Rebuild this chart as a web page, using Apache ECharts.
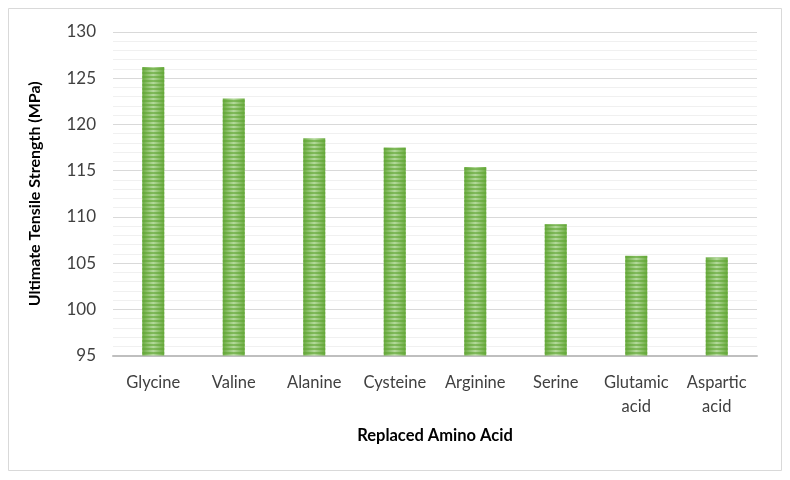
<!DOCTYPE html>
<html><head><meta charset="utf-8">
<script src="https://cdn.jsdelivr.net/npm/echarts@6/dist/echarts.min.js"></script>
<style>html,body{margin:0;padding:0;background:#fff}#c{width:790px;height:480px}</style>
</head><body><div id="c"></div>
<script>
const categories = ["Glycine","Valine","Alanine","Cysteine","Arginine","Serine","Glutamic\nacid","Aspartic\nacid"];
const values = [126.2, 122.8, 118.5, 117.5, 115.4, 109.2, 105.8, 105.6];
const yTicks = [95, 130, 5];
const xTitle = "Replaced Amino Acid";
const yTitle = "Ultimate Tensile Strength (MPa)";

const chart = echarts.init(document.getElementById('c'), null, {renderer:'canvas'});
const font = 'Lato, "Open Sans", sans-serif';
chart.setOption({
  animation:false,
  backgroundColor:'#fff',
  graphic:[{type:'rect', shape:{x:8.5,y:8.5,width:773,height:462}, style:{fill:'none', stroke:'#d9d9d9', lineWidth:1}, silent:true}],
  grid:{left:113, right:33, top:32, bottom:124.5},
  xAxis:{
    type:'category', data:categories,
    name:xTitle, nameLocation:'middle', nameGap:72,
    nameTextStyle:{fontFamily:font, fontSize:16.5, fontWeight:'bold', color:'#000'},
    axisLine:{lineStyle:{color:'#bfbfbf', width:2}},
    axisTick:{show:false},
    axisLabel:{fontFamily:font, fontSize:16.5, color:'#404040', margin:15, lineHeight:24, interval:0}
  },
  yAxis:{
    type:'value', min:yTicks[0], max:yTicks[1], interval:yTicks[2],
    name:yTitle, nameLocation:'middle', nameGap:70,
    nameTextStyle:{fontFamily:font, fontSize:16, fontWeight:'bold', color:'#000'},
    axisLine:{show:false}, axisTick:{show:false},
    axisLabel:{fontFamily:font, fontSize:17, color:'#404040', margin:17},
    splitLine:{lineStyle:{color:'#d9d9d9', width:1}},
    minorTick:{show:false, splitNumber:5},
    minorSplitLine:{show:true, lineStyle:{color:'#f0f0f0', width:1}}
  },
  series:[{
    type:'bar', data:values, barWidth:22,
    itemStyle:{
      color:{type:'linear', x:0, y:0, x2:1, y2:0, colorStops:[
        {offset:0, color:'#6aab3f'},{offset:0.5, color:'#b4d99c'},{offset:1, color:'#6aab3f'}]},
      decal:{symbol:'rect', symbolSize:1, color:'rgba(95,165,50,0.6)', dashArrayX:[1,0], dashArrayY:[2,1.5], rotation:0}
    }
  }]
});
</script></body></html>
